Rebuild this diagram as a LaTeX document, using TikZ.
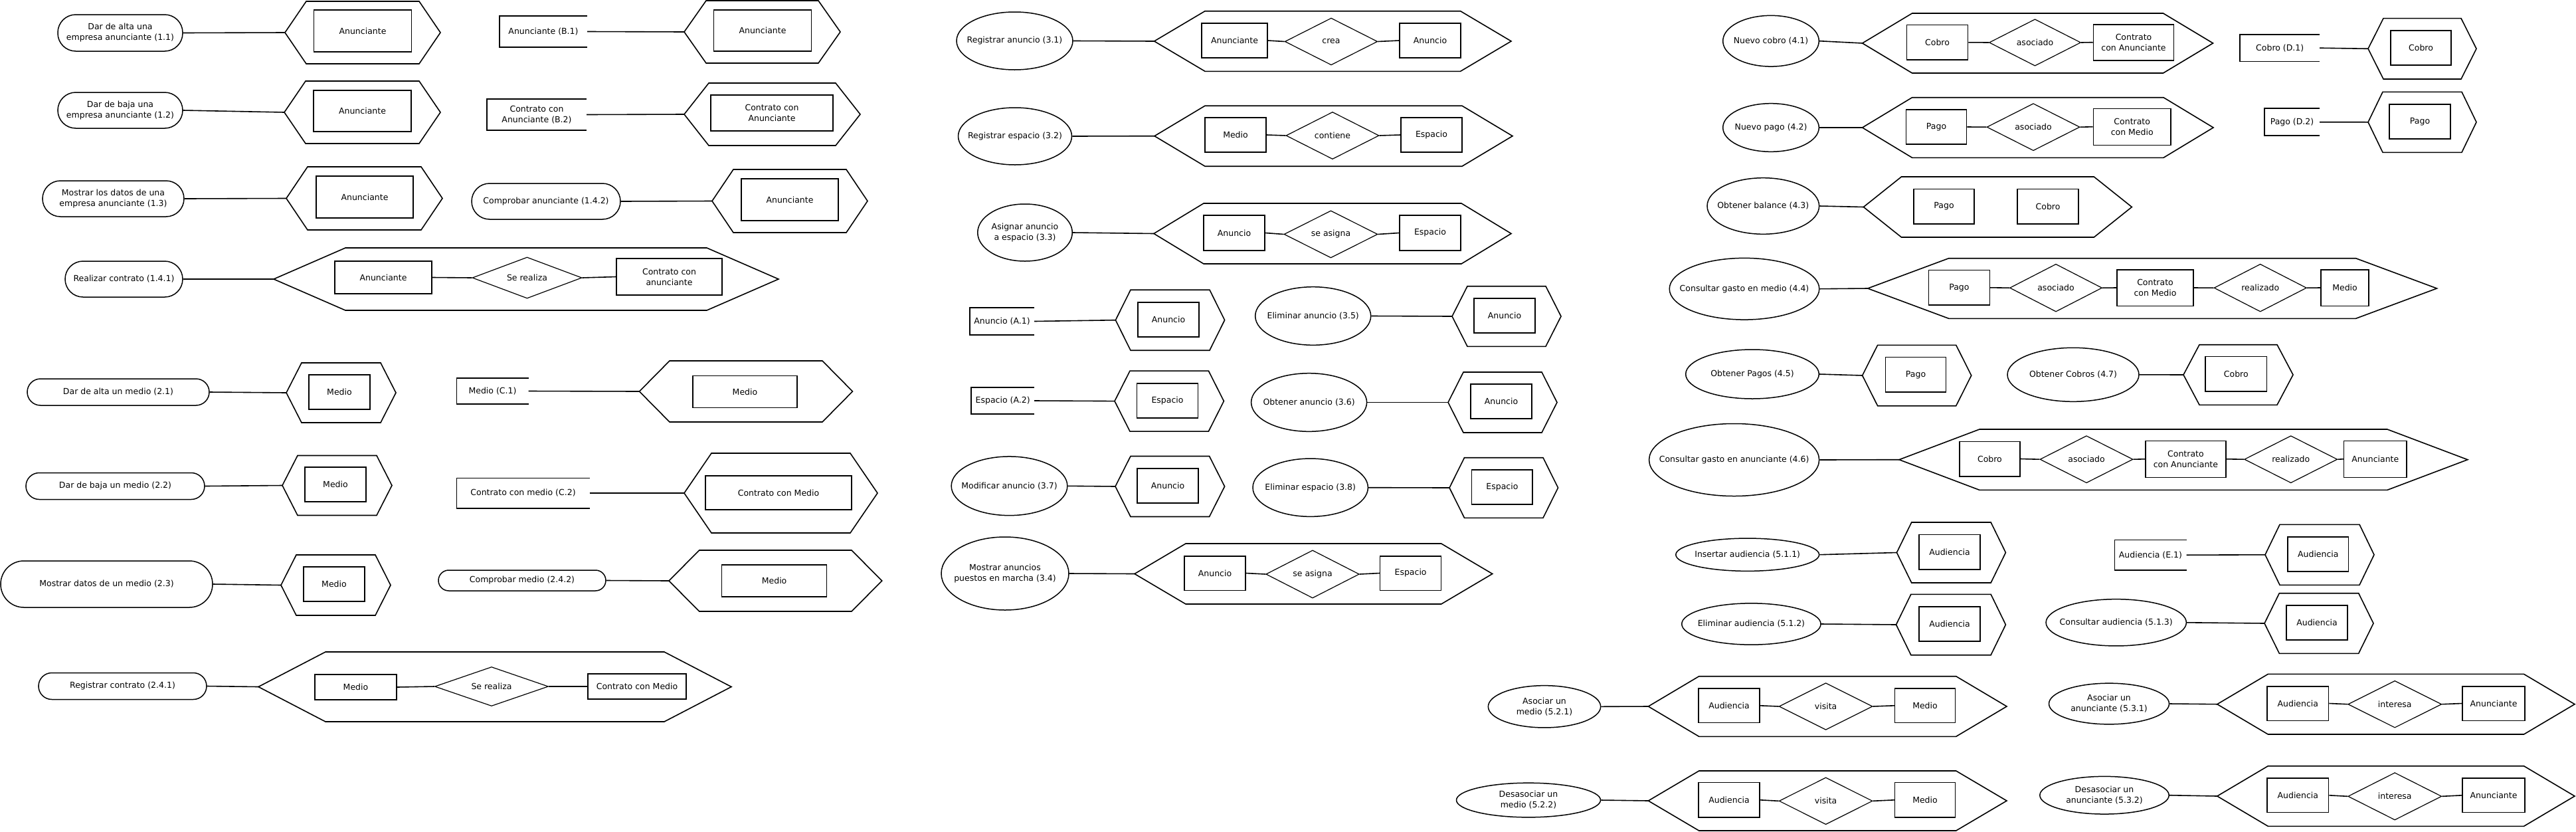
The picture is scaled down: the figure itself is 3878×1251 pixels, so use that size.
\documentclass[tikz,border=0pt]{standalone}
\usepackage{fontspec}
\setmainfont{DejaVu Sans}
\usepackage{tikz}
\usetikzlibrary{shapes.geometric}

\tikzset{
  marco/.style={draw,line width=1.6pt},
  enlace/.style={line width=1.6pt},
  entidad/.style={draw,rectangle,line width=1.6pt,inner sep=0pt,align=center},
  relacion/.style={draw,diamond,aspect=2,line width=1.2pt,inner sep=0pt,align=center},
  caso/.style={draw,rectangle,line width=1.5pt,inner sep=0pt,align=center},
  proceso/.style={draw,ellipse,line width=1.5pt,inner sep=0pt},
  almacen/.style={rectangle,inner sep=0pt,align=center},
  rotulo/.style={align=center,inner sep=0pt}
}

\newcommand{\hexagono}[6]{%
  \pgfmathsetmacro{\anchoHex}{#3-#2-2*#4}%
  \coordinate (#1) at (#2,#5);
  \draw[marco] (#1) -- ++(#4,-#6) -- ++(\anchoHex,0) -- ++(#4,#6) -- ++(-#4,#6) -- ++(-\anchoHex,0) -- cycle;
}

\begin{document}
\begin{tikzpicture}[x=1pt,y=-1pt,font=\fontsize{12.5}{16}\selectfont]
\useasboundingbox (0,0) rectangle (3878,1251);

\node[caso,minimum width=188pt,minimum height=55pt,rounded corners=27pt] (p11) at (181,49.5) {Dar de alta una\\empresa anunciante (1.1)};
\hexagono{h11}{429}{663}{32}{49}{47}
\node[entidad,minimum width=147pt,minimum height=63pt] (e11) at (546,46.5) {Anunciante};
\draw[enlace] (p11.east) -- (h11);

\node[caso,minimum width=188pt,minimum height=54pt,rounded corners=27pt] (p12) at (181,166) {Dar de baja una\\empresa anunciante (1.2)};
\hexagono{h12}{428}{663}{32}{169}{47}
\node[entidad,minimum width=147pt,minimum height=62pt] (e12) at (545.5,167) {Anunciante};
\draw[enlace] (p12.east) -- (h12);

\node[caso,minimum width=213pt,minimum height=54pt,rounded corners=27pt] (p13) at (170.5,299) {Mostrar los datos de una\\empresa anunciante (1.3)};
\hexagono{h13}{431}{666}{32}{298.5}{47.5}
\node[entidad,minimum width=146pt,minimum height=63pt] (e13) at (549,296.5) {Anunciante};
\draw[enlace] (p13.east) -- (h13);

\node[caso,minimum width=177pt,minimum height=54pt,rounded corners=27pt] (p141) at (186.5,420) {Realizar contrato (1.4.1)};
\hexagono{h141}{412}{1172}{108}{420}{47}
\node[entidad,minimum width=146pt,minimum height=49pt] (e141a) at (577,417.5) {Anunciante};
\node[relacion,minimum width=165pt,minimum height=62pt] (r141) at (793.5,418) {Se realiza};
\node[entidad,minimum width=159pt,minimum height=55pt] (e141b) at (1007.5,416.5) {Contrato con\\anunciante};
\draw[enlace] (p141.east) -- (h141);
\draw[enlace] (e141a.east) -- (r141.west);
\draw[enlace] (r141.east) -- (e141b.west);

\node[almacen,minimum width=132pt,minimum height=47pt] (almB1) at (818,47.5) {Anunciante (B.1)};
\hexagono{hB1}{1030}{1265}{33}{48}{47}
\node[entidad,minimum width=147pt,minimum height=62pt] (eB1) at (1148,46) {Anunciante};
\draw[enlace] (almB1.east) -- (hB1);

\node[almacen,minimum width=150pt,minimum height=47pt] (almB2) at (808,172.5) {Contrato con\\Anunciante (B.2)};
\hexagono{hB2}{1030}{1295}{37}{172}{47}
\node[entidad,minimum width=184pt,minimum height=54pt] (eB2) at (1162,170) {Contrato con\\Anunciante};
\draw[enlace] (almB2.east) -- (hB2);

\node[caso,minimum width=224pt,minimum height=54pt,rounded corners=27pt] (p142) at (822,303) {Comprobar anunciante (1.4.2)};
\hexagono{h142}{1072}{1306}{32}{302.5}{47.5}
\node[entidad,minimum width=146pt,minimum height=63pt] (e142) at (1189,300.5) {Anunciante};
\draw[enlace] (p142.east) -- (h142);

\node[caso,minimum width=274pt,minimum height=40pt,rounded corners=20pt] (p21) at (178,590) {Dar de alta un medio (2.1)};
\hexagono{h21}{431}{596}{23}{591}{45}
\node[entidad,minimum width=92pt,minimum height=52pt] (e21) at (511,590) {Medio};
\draw[enlace] (p21.east) -- (h21);

\node[caso,minimum width=269pt,minimum height=40pt,rounded corners=20pt] (p22) at (173.5,731.5) {Dar de baja un medio (2.2)};
\hexagono{h22}{425}{590}{23}{730.5}{45}
\node[entidad,minimum width=92pt,minimum height=52pt] (e22) at (505,729) {Medio};
\draw[enlace] (p22.east) -- (h22);

\node[caso,minimum width=319pt,minimum height=70pt,rounded corners=35pt] (p23) at (160.5,879) {Mostrar datos de un medio (2.3)};
\hexagono{h23}{423}{588}{23}{880.5}{45.5}
\node[entidad,minimum width=92pt,minimum height=52pt] (e23) at (503,879) {Medio};
\draw[enlace] (p23.east) -- (h23);

\node[caso,minimum width=253pt,minimum height=40pt,rounded corners=20pt] (p241) at (184.5,1032.5) {Registrar contrato (2.4.1)};
\hexagono{h241}{389}{1101}{101}{1033.5}{52.5}
\node[entidad,minimum width=123pt,minimum height=38pt] (e241a) at (535.5,1034) {Medio};
\node[relacion,minimum width=171pt,minimum height=59pt] (r241) at (740,1033) {Se realiza};
\node[entidad,minimum width=148pt,minimum height=38pt] (e241b) at (959,1033) {Contrato con Medio};
\draw[enlace] (p241.east) -- (h241);
\draw[enlace] (e241a.east) -- (r241.west);
\draw[enlace] (r241.east) -- (e241b.west);

\node[almacen,minimum width=108pt,minimum height=39pt] (almC1) at (741.5,588.5) {Medio (C.1)};
\hexagono{hC1}{962.5}{1283.5}{45.5}{589}{46}
\node[entidad,minimum width=157pt,minimum height=48pt] (eC1) at (1121.5,589.5) {Medio};
\draw[enlace] (almC1.east) -- (hC1);

\node[almacen,minimum width=200pt,minimum height=45pt] (almC2) at (787.5,742) {Contrato con medio (C.2)};
\hexagono{hC2}{1030}{1321}{41}{742}{60}
\node[entidad,minimum width=219.5pt,minimum height=51pt] (eC2) at (1172,741.5) {Contrato con Medio};
\draw[enlace] (almC2.east) -- (hC2);

\node[caso,minimum width=252pt,minimum height=31pt,rounded corners=15.5pt] (p242) at (786,873.5) {Comprobar medio (2.4.2)};
\hexagono{h242}{1007}{1327.7}{45.7}{874}{46}
\node[entidad,minimum width=158pt,minimum height=48.5pt] (e242) at (1165.6,874) {Medio};
\draw[enlace] (p242.east) -- (h242);

\node[proceso,minimum width=175pt,minimum height=87pt,label={[rotulo]center:Registrar anuncio (3.1)}] (p31) at (1527.5,61.5) {};
\hexagono{h31}{1737.6}{2275}{76.4}{62}{45.3}
\node[entidad,minimum width=99pt,minimum height=52pt] (e31a) at (1858.5,61) {Anunciante};
\node[relacion,minimum width=139.5pt,minimum height=70.7pt] (r31) at (2004,62.5) {crea};
\node[entidad,minimum width=92pt,minimum height=52pt] (e31b) at (2153,61) {Anuncio};
\draw[enlace] (p31.east) -- (h31);
\draw[enlace] (e31a.east) -- (r31.west);
\draw[enlace] (r31.east) -- (e31b.west);

\node[proceso,minimum width=171pt,minimum height=86pt,label={[rotulo]center:Registrar espacio (3.2)}] (p32) at (1528,205) {};
\hexagono{h32}{1738}{2277}{76}{204.7}{45.5}
\node[entidad,minimum width=92pt,minimum height=52pt] (e32a) at (1860,203) {Medio};
\node[relacion,minimum width=140pt,minimum height=71pt] (r32) at (2006,204) {contiene};
\node[entidad,minimum width=92pt,minimum height=52pt] (e32b) at (2155,203) {Espacio};
\draw[enlace] (p32.east) -- (h32);
\draw[enlace] (e32a.east) -- (r32.west);
\draw[enlace] (r32.east) -- (e32b.west);

\node[proceso,minimum width=142.5pt,minimum height=86pt,label={[rotulo]center:{Asignar anuncio\\a espacio (3.3)}}] (p33) at (1543,350) {};
\hexagono{h33}{1737}{2275}{75}{351.5}{45.5}
\node[entidad,minimum width=92pt,minimum height=53pt] (e33a) at (1858,350.5) {Anuncio};
\node[relacion,minimum width=141pt,minimum height=71pt] (r33) at (2003.5,352.5) {se asigna};
\node[entidad,minimum width=92pt,minimum height=53pt] (e33b) at (2153,350.5) {Espacio};
\draw[enlace] (p33.east) -- (h33);
\draw[enlace] (e33a.east) -- (r33.west);
\draw[enlace] (r33.east) -- (e33b.west);

\node[almacen,minimum width=97pt,minimum height=41pt] (almA1) at (1508.5,483.5) {Anuncio (A.1)};
\hexagono{hA1}{1679.4}{1843.6}{22.6}{481.7}{45.5}
\node[entidad,minimum width=92pt,minimum height=52pt] (eA1) at (1759,480.7) {Anuncio};
\draw[enlace] (almA1.east) -- (hA1);

\node[proceso,minimum width=174pt,minimum height=87.6pt,label={[rotulo]center:Eliminar anuncio (3.5)}] (p35) at (1976.7,475.5) {};
\hexagono{h35}{2186}{2350}{23}{476}{45.3}
\node[entidad,minimum width=92.5pt,minimum height=52pt] (e35) at (2265,474.7) {Anuncio};
\draw[enlace] (p35.east) -- (h35);

\node[almacen,minimum width=94.6pt,minimum height=40pt] (almA2) at (1509.7,603) {Espacio (A.2)};
\hexagono{hA2}{1678}{1842.4}{23}{603.6}{45.5}
\node[entidad,minimum width=92pt,minimum height=52pt] (eA2) at (1757.5,602.7) {Espacio};
\draw[enlace] (almA2.east) -- (hA2);

\node[proceso,minimum width=174pt,minimum height=87.6pt,label={[rotulo]center:Obtener anuncio (3.6)}] (p36) at (1970.6,605.5) {};
\hexagono{h36}{2180}{2344}{23}{605.5}{45.5}
\node[entidad,minimum width=92pt,minimum height=52pt] (e36) at (2260,604) {Anuncio};
\draw[enlace] (p36.east) -- (h36);

\node[proceso,minimum width=174.7pt,minimum height=88.7pt,label={[rotulo]center:Modificar anuncio (3.7)}] (p37) at (1519.5,731.3) {};
\hexagono{h37}{1679}{1843.6}{23}{732}{45.5}
\node[entidad,minimum width=92pt,minimum height=52.3pt] (e37) at (1758,731) {Anuncio};
\draw[enlace] (p37.east) -- (h37);

\node[proceso,minimum width=173.4pt,minimum height=87.3pt,label={[rotulo]center:Eliminar espacio (3.8)}] (p38) at (1972.7,733.7) {};
\hexagono{h38}{2182}{2345.5}{22.5}{734}{45.3}
\node[entidad,minimum width=91.5pt,minimum height=52pt] (e38) at (2261.4,732.7) {Espacio};
\draw[enlace] (p38.east) -- (h38);

\node[proceso,minimum width=192pt,minimum height=110pt,label={[rotulo]center:{Mostrar anuncios\\puestos en marcha (3.4)}}] (p34) at (1513,863) {};
\hexagono{h34}{1708}{2246.7}{77}{863.5}{45.5}
\node[entidad,minimum width=92pt,minimum height=51.6pt] (e34a) at (1829,862.5) {Anuncio};
\node[relacion,minimum width=140.5pt,minimum height=72pt] (r34) at (1976,864) {se asigna};
\node[entidad,minimum width=92pt,minimum height=51.6pt] (e34b) at (2123.6,862.5) {Espacio};
\draw[enlace] (p34.east) -- (h34);
\draw[enlace] (e34a.east) -- (r34.west);
\draw[enlace] (r34.east) -- (e34b.west);

\node[proceso,minimum width=144.6pt,minimum height=76.7pt,label={[rotulo]center:Nuevo cobro (4.1)}] (p41) at (2666,61.7) {};
\hexagono{h41}{2803.6}{3331.5}{75}{65}{45}
\node[entidad,minimum width=92pt,minimum height=52.3pt] (e41a) at (2916.5,63.8) {Cobro};
\node[relacion,minimum width=138pt,minimum height=70.3pt] (r41) at (3063.5,64) {asociado};
\node[entidad,minimum width=121pt,minimum height=54pt] (e41b) at (3212,63.7) {Contrato\\con Anunciante};
\draw[enlace] (p41.east) -- (h41);
\draw[enlace] (e41a.east) -- (r41.west);
\draw[enlace] (r41.east) -- (e41b.west);

\node[almacen,minimum width=119.5pt,minimum height=40.3pt] (almD1) at (3432.2,72.2) {Cobro (D.1)};
\hexagono{hD1}{3565}{3728}{23}{73.3}{45.7}
\node[entidad,minimum width=91pt,minimum height=52pt] (eD1) at (3644.5,72) {Cobro};
\draw[enlace] (almD1.east) -- (hD1);

\node[proceso,minimum width=144.6pt,minimum height=72.6pt,label={[rotulo]center:Nuevo pago (4.2)}] (p42) at (2666,192) {};
\hexagono{h42}{2803.6}{3332}{75}{192}{45.3}
\node[entidad,minimum width=91pt,minimum height=52.3pt] (e42a) at (2915,191) {Pago};
\node[relacion,minimum width=140pt,minimum height=71pt] (r42) at (3061,191.2) {asociado};
\node[entidad,minimum width=116.6pt,minimum height=55pt] (e42b) at (3209.7,190.8) {Contrato\\con Medio};
\draw[enlace] (p42.east) -- (h42);
\draw[enlace] (e42a.east) -- (r42.west);
\draw[enlace] (r42.east) -- (e42b.west);

\node[almacen,minimum width=83pt,minimum height=40.7pt] (almD2) at (3450.5,183.7) {Pago (D.2)};
\hexagono{hD2}{3565}{3728}{22}{183.8}{45.5}
\node[entidad,minimum width=92pt,minimum height=52.3pt] (eD2) at (3643,183) {Pago};
\draw[enlace] (almD2.east) -- (hD2);

\node[proceso,minimum width=168.6pt,minimum height=84.6pt,label={[rotulo]center:Obtener balance (4.3)}] (p43) at (2654.3,310) {};
\hexagono{h43}{2805.4}{3209.3}{57}{311.5}{45.5}
\node[entidad,minimum width=91pt,minimum height=52.4pt] (e43a) at (2926.5,310.5) {Pago};
\node[entidad,minimum width=92pt,minimum height=52.4pt] (e43b) at (3083,310.5) {Cobro};
\draw[enlace] (p43.east) -- (h43);

\node[proceso,minimum width=225.6pt,minimum height=92.7pt,label={[rotulo]center:Consultar gasto en medio (4.4)}] (p44) at (2626,434.7) {};
\hexagono{h44}{2811.7}{3668.5}{122}{434}{45.3}
\node[entidad,minimum width=92pt,minimum height=52.3pt] (e44a) at (2949.4,432.8) {Pago};
\node[relacion,minimum width=139pt,minimum height=71.7pt] (r44a) at (3095,433.2) {asociado};
\node[entidad,minimum width=115pt,minimum height=54.6pt] (e44b) at (3244.5,433) {Contrato\\con Medio};
\node[relacion,minimum width=139.3pt,minimum height=71.7pt] (r44b) at (3402.7,433.2) {realizado};
\node[entidad,minimum width=72.3pt,minimum height=54.6pt] (e44c) at (3530,433) {Medio};
\draw[enlace] (p44.east) -- (h44);
\draw[enlace] (e44a.east) -- (r44a.west);
\draw[enlace] (r44a.east) -- (e44b.west);
\draw[enlace] (e44b.east) -- (r44b.west);
\draw[enlace] (r44b.east) -- (e44c.west);

\node[proceso,minimum width=200.6pt,minimum height=74pt,label={[rotulo]center:Obtener Pagos (4.5)}] (p45) at (2638,563) {};
\hexagono{h45}{2803.6}{2967.7}{23}{565}{45.7}
\node[entidad,minimum width=91pt,minimum height=52.3pt] (e45) at (2884,563.8) {Pago};
\draw[enlace] (p45.east) -- (h45);

\node[proceso,minimum width=198pt,minimum height=81pt,label={[rotulo]center:Obtener Cobros (4.7)}] (p47) at (3121,563.8) {};
\hexagono{h47}{3287}{3452}{24}{564}{45.3}
\node[entidad,minimum width=92.6pt,minimum height=52.3pt] (e47) at (3366.3,562.8) {Cobro};
\draw[enlace] (p47.east) -- (h47);

\node[proceso,minimum width=256pt,minimum height=109pt,label={[rotulo]center:Consultar gasto en anunciante (4.6)}] (p46) at (2610.6,692) {};
\hexagono{h46}{2859}{3714.8}{121}{691.7}{45.7}
\node[entidad,minimum width=91pt,minimum height=52.4pt] (e46a) at (2995.4,690.5) {Cobro};
\node[relacion,minimum width=140pt,minimum height=71pt] (r46a) at (3141,691.2) {asociado};
\node[entidad,minimum width=121.2pt,minimum height=55pt] (e46b) at (3290.4,690.8) {Contrato\\con Anunciante};
\node[relacion,minimum width=140pt,minimum height=71pt] (r46b) at (3448.7,691.2) {realizado};
\node[entidad,minimum width=94.5pt,minimum height=55pt] (e46c) at (3575.8,690.8) {Anunciante};
\draw[enlace] (p46.east) -- (h46);
\draw[enlace] (e46a.east) -- (r46a.west);
\draw[enlace] (r46a.east) -- (e46b.west);
\draw[enlace] (e46b.east) -- (r46b.west);
\draw[enlace] (r46b.east) -- (e46c.west);

\node[proceso,minimum width=215.8pt,minimum height=49.3pt,label={[rotulo]center:Insertar audiencia (5.1.1)}] (p511) at (2630.7,834.7) {};
\hexagono{h511}{2855.4}{3019.4}{22.3}{831.5}{45.5}
\node[entidad,minimum width=92pt,minimum height=52.4pt] (e511) at (2935,830.5) {Audiencia};
\draw[enlace] (p511.east) -- (h511);

\node[almacen,minimum width=107.8pt,minimum height=45pt] (almE1) at (3237.4,835.2) {Audiencia (E.1)};
\hexagono{hE1}{3410}{3574}{22}{834.8}{45.5}
\node[entidad,minimum width=91.6pt,minimum height=52pt] (eE1) at (3489.8,834) {Audiencia};
\draw[enlace] (almE1.east) -- (hE1);

\node[proceso,minimum width=209.3pt,minimum height=62.3pt,label={[rotulo]center:Eliminar audiencia (5.1.2)}] (p512) at (2636.4,939) {};
\hexagono{h512}{2854.5}{3019.4}{22.3}{940}{45.7}
\node[entidad,minimum width=92pt,minimum height=52pt] (e512) at (2935,938.7) {Audiencia};
\draw[enlace] (p512.east) -- (h512);

\node[proceso,minimum width=211.3pt,minimum height=70.3pt,label={[rotulo]center:Consultar audiencia (5.1.3)}] (p513) at (3185.7,936.8) {};
\hexagono{h513}{3409}{3573}{22.3}{938}{45.3}
\node[entidad,minimum width=92pt,minimum height=52pt] (e513) at (3488,936.7) {Audiencia};
\draw[enlace] (p513.east) -- (h513);

\node[proceso,minimum width=169.3pt,minimum height=63.3pt,label={[rotulo]center:{Asociar un\\medio (5.2.1)}}] (p521) at (2325,1063.3) {};
\hexagono{h521}{2481.4}{3021}{76.3}{1063}{45.3}
\node[entidad,minimum width=92pt,minimum height=51.7pt] (e521a) at (2603,1061.8) {Audiencia};
\node[relacion,minimum width=140.7pt,minimum height=70.6pt] (r521) at (2748.6,1063) {visita};
\node[entidad,minimum width=90.7pt,minimum height=51.7pt] (e521b) at (2898,1061.8) {Medio};
\draw[enlace] (p521.east) -- (h521);
\draw[enlace] (e521a.east) -- (r521.west);
\draw[enlace] (r521.east) -- (e521b.west);

\node[proceso,minimum width=217pt,minimum height=51.7pt,label={[rotulo]center:{Desasociar un\\medio (5.2.2)}}] (p522) at (2301,1204) {};
\hexagono{h522}{2481.4}{3021}{76.3}{1205}{45}
\node[entidad,minimum width=92pt,minimum height=52.3pt] (e522a) at (2603,1203.8) {Audiencia};
\node[relacion,minimum width=140.7pt,minimum height=70.7pt] (r522) at (2748.6,1205.3) {visita};
\node[entidad,minimum width=90.7pt,minimum height=52.3pt] (e522b) at (2898,1203.8) {Medio};
\draw[enlace] (p522.east) -- (h522);
\draw[enlace] (e522a.east) -- (r522.west);
\draw[enlace] (r522.east) -- (e522b.west);

\node[proceso,minimum width=181pt,minimum height=61.7pt,label={[rotulo]center:{Asociar un\\anunciante (5.3.1)}}] (p531) at (3175,1059) {};
\hexagono{h531}{3337.8}{3876}{76.5}{1059.7}{45.3}
\node[entidad,minimum width=92.6pt,minimum height=51.6pt] (e531a) at (3459.3,1058.5) {Audiencia};
\node[relacion,minimum width=141pt,minimum height=70.7pt] (r531) at (3605.2,1059.7) {interesa};
\node[entidad,minimum width=93.5pt,minimum height=51.6pt] (e531b) at (3754,1058.5) {Anunciante};
\draw[enlace] (p531.east) -- (h531);
\draw[enlace] (e531a.east) -- (r531.west);
\draw[enlace] (r531.east) -- (e531b.west);

\node[proceso,minimum width=194.4pt,minimum height=56.7pt,label={[rotulo]center:{Desasociar un\\anunciante (5.3.2)}}] (p532) at (3168,1196.7) {};
\hexagono{h532}{3337.8}{3876}{76.5}{1198}{45.3}
\node[entidad,minimum width=92.6pt,minimum height=51.7pt] (e532a) at (3459.3,1196.8) {Audiencia};
\node[relacion,minimum width=141pt,minimum height=71.3pt] (r532) at (3605.2,1198.3) {interesa};
\node[entidad,minimum width=93.5pt,minimum height=51.7pt] (e532b) at (3754,1196.8) {Anunciante};
\draw[enlace] (p532.east) -- (h532);
\draw[enlace] (e532a.east) -- (r532.west);
\draw[enlace] (r532.east) -- (e532b.west);

\foreach \s in {almB1,almB2,almC1,almC2,almA1,almA2,almD1,almD2,almE1}
  \draw[enlace] (\s.north east) -| (\s.south west) -- (\s.south east);
\end{tikzpicture}
\end{document}
